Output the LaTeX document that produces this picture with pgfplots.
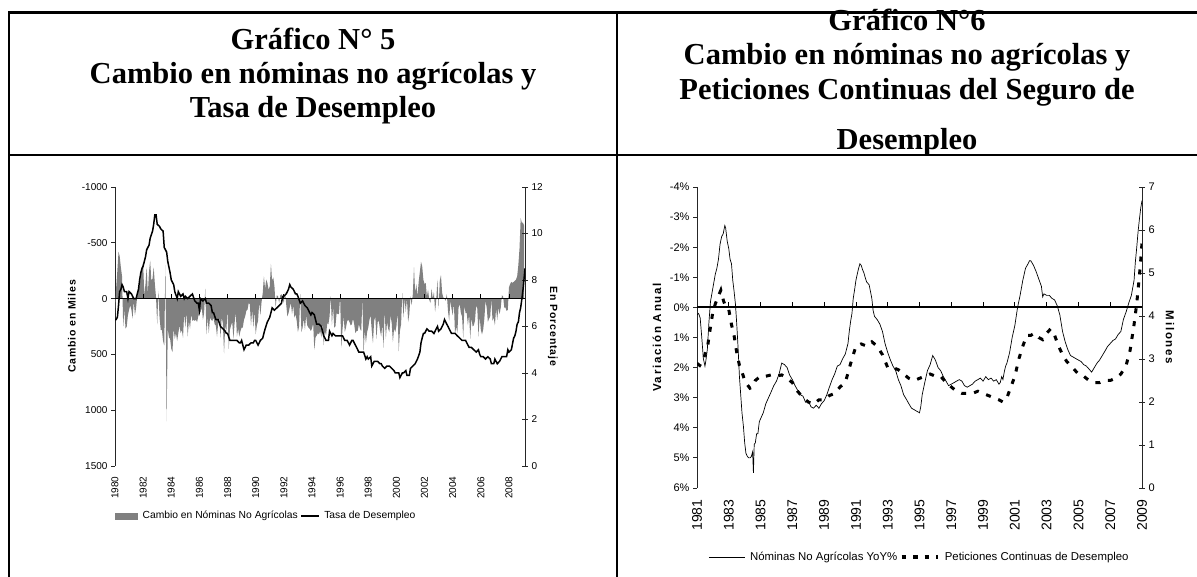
\documentclass[border=0pt]{standalone}
\usepackage{fontspec}
\setmainfont{Liberation Serif}
\setsansfont{Liberation Sans}
\newfontfamily\lblA[LetterSpace=8]{Liberation Sans}
\newfontfamily\lblB[LetterSpace=15]{Liberation Sans}
\usepackage{pgfplots}
\pgfplotsset{compat=1.18}
\definecolor{areagray}{RGB}{128,128,128}
\begin{document}
\begin{tikzpicture}[x=1pt,y=1pt]
\path[use as bounding box] (0pt,0pt) rectangle (1197pt,577pt);
% table frame
\draw[line width=2.2pt] (9pt,0pt) -- (9pt,564.5pt) -- (1197pt,564.5pt);
\draw[line width=2.2pt] (9pt,422pt) -- (1197pt,422pt);
\draw[line width=2.2pt] (617pt,0pt) -- (617pt,564.5pt);
% titles
\begin{scope}[every node/.style={font=\bfseries\fontsize{30.5}{35}\selectfont, anchor=base, inner sep=0pt}]
\node at (313pt,527pt) {Gráfico N° 5};
\node at (313pt,493pt) {Cambio en nóminas no agrícolas y};
\node at (313pt,459pt) {Tasa de Desempleo};
\node at (907pt,546pt) {Gráfico N°6};
\node at (907pt,512pt) {Cambio en nóminas no agrícolas y};
\node at (907pt,477pt) {Peticiones Continuas del Seguro de};
\node at (907pt,427pt) {Desempleo};
\end{scope}

% ================= CHART 1 =================
\begin{axis}[
  at={(115pt,111pt)}, anchor=south west, scale only axis,
  width=410pt, height=279pt,
  xmin=1980, xmax=2009.14, ymin=-1000, ymax=1500, y dir=reverse,
  axis y line*=left, axis x line=none,
  axis line style={black!85, line width=0.8pt},
  ytick={-1000,-500,0,500,1000,1500},
  yticklabels={-1000,-500,0,500,1000,1500},
  tick align=outside, major tick length=4pt,
  tick style={black!85, line width=0.8pt},
  tick label style={font=\sffamily\fontsize{10}{12}\selectfont},
  ylabel={Cambio en Miles},
  ylabel style={at={(axis description cs:-0.105,0.5)}, anchor=center, font=\lblA\bfseries\fontsize{10.5}{12}\selectfont},
]
\addplot[fill=areagray, draw=none] table[row sep=\\, header=false, x expr=1980+\coordindex/12, y index=0] {
130\\ -100\\ -250\\ -420\\ -380\\ -280\\ -200\\ 250\\ 100\\ 270\\ 250\\ 150\\
100\\ 60\\ 100\\ 180\\ 20\\ 150\\ 80\\ -30\\ -120\\ -100\\ -210\\ -280\\
-320\\ -30\\ -130\\ -280\\ -40\\ -240\\ -340\\ -160\\ -180\\ -280\\ -130\\ -10\\
230\\ -70\\ 170\\ 280\\ 280\\ 380\\ 420\\ -300\\ 1100\\ 270\\ 350\\ 360\\
450\\ 480\\ 270\\ 360\\ 310\\ 380\\ 310\\ 240\\ 310\\ 280\\ 350\\ 130\\
260\\ 120\\ 340\\ 200\\ 270\\ 140\\ 200\\ 190\\ 200\\ 190\\ 210\\ 160\\
130\\ 120\\ 80\\ 190\\ 130\\ -90\\ 320\\ 170\\ 310\\ 170\\ 190\\ 200\\
170\\ 230\\ 240\\ 340\\ 220\\ 170\\ 350\\ 170\\ 220\\ 490\\ 240\\ 290\\
90\\ 450\\ 280\\ 240\\ 210\\ 360\\ 220\\ 120\\ 340\\ 270\\ 340\\ 290\\
260\\ 260\\ 190\\ 160\\ 110\\ 100\\ 40\\ 50\\ 240\\ 100\\ 260\\ 110\\
320\\ 240\\ 200\\ 30\\ 150\\ 30\\ -50\\ -200\\ -90\\ -170\\ -140\\ -80\\
-110\\ -310\\ -160\\ -190\\ -110\\ 80\\ -30\\ -20\\ 40\\ -30\\ -40\\ 0\\
40\\ -60\\ 50\\ 160\\ 130\\ 80\\ 40\\ 140\\ 60\\ 170\\ 140\\ 200\\
300\\ 250\\ -40\\ 300\\ 260\\ 180\\ 280\\ 150\\ 240\\ 260\\ 270\\ 290\\
270\\ 220\\ 460\\ 350\\ 330\\ 310\\ 320\\ 290\\ 350\\ 210\\ 420\\ 290\\
330\\ 220\\ 230\\ 160\\ -20\\ 240\\ 70\\ 260\\ 250\\ 130\\ 140\\ 140\\
-20\\ 440\\ 280\\ 160\\ 300\\ 260\\ 200\\ 190\\ 210\\ 240\\ 230\\ 180\\
230\\ 310\\ 290\\ 290\\ 230\\ 270\\ 290\\ 0\\ 490\\ 280\\ 400\\ 300\\
260\\ 190\\ 150\\ 290\\ 400\\ 200\\ 160\\ 360\\ 210\\ 200\\ 280\\ 340\\
230\\ 440\\ 100\\ 360\\ 210\\ 270\\ 300\\ 150\\ 220\\ 390\\ 270\\ 300\\
250\\ 120\\ 470\\ 290\\ 230\\ -50\\ 170\\ 0\\ 120\\ 0\\ 210\\ 140\\
-20\\ 60\\ -40\\ -280\\ -50\\ -130\\ -20\\ -150\\ -240\\ -330\\ -290\\ -170\\
-130\\ -140\\ -20\\ -80\\ 10\\ 40\\ -90\\ 0\\ -60\\ 120\\ 10\\ -170\\
90\\ -160\\ -210\\ -50\\ -10\\ 0\\ 20\\ -40\\ 110\\ 200\\ 20\\ 90\\
150\\ 40\\ 320\\ 250\\ 310\\ 80\\ 50\\ 130\\ 160\\ 350\\ 60\\ 130\\
130\\ 240\\ 140\\ 360\\ 170\\ 250\\ 240\\ 200\\ 60\\ 90\\ 340\\ 160\\
280\\ 320\\ 280\\ 180\\ 20\\ 80\\ 210\\ 180\\ 160\\ 5\\ 200\\ 170\\
240\\ 90\\ 190\\ 80\\ 140\\ 80\\ -30\\ -20\\ 80\\ 80\\ 110\\ 100\\
-100\\ -130\\ -150\\ -140\\ -150\\ -160\\ -170\\ -200\\ -300\\ -450\\ -720\\ -680\\
-680\\ -650\\
} \closedcycle;
\addplot[black, line width=1pt] coordinates {(1980,0) (2009.14,0)};
\addplot[ycomb, black, line width=0.8pt] coordinates {
(1982,-45) (1984,-45) (1986,-45) (1988,-45) (1990,-45) (1992,-45) (1994,-45)
(1996,-45) (1998,-45) (2000,-45) (2002,-45) (2004,-45) (2006,-45) (2008,-45)};
\end{axis}

\begin{axis}[
  at={(115pt,111pt)}, anchor=south west, scale only axis,
  width=410pt, height=279pt,
  xmin=1980, xmax=2009.14, ymin=0, ymax=12,
  axis y line*=right, axis x line*=bottom,
  axis line style={black!85, line width=0.8pt},
  x axis line style={draw=none},
  xtick={1980,1982,1984,1986,1988,1990,1992,1994,1996,1998,2000,2002,2004,2006,2008},
  xticklabels={1980,1982,1984,1986,1988,1990,1992,1994,1996,1998,2000,2002,2004,2006,2008},
  major x tick style={draw=none},
  xticklabel style={rotate=90, anchor=east},
  xticklabel shift=4pt,
  ytick={0,2,4,6,8,10,12},
  yticklabels={0,2,4,6,8,10,12},
  tick align=center, major tick length=6pt,
  tick style={black!85, line width=0.8pt},
  tick label style={font=\sffamily\fontsize{10}{12}\selectfont},
  ylabel={En Porcentaje},
  ylabel style={at={(axis description cs:1.068,0.5)}, anchor=center, rotate=180, font=\lblA\bfseries\fontsize{10.5}{12}\selectfont},
  legend columns=2,
  legend style={draw=none, fill=none, at={(axis description cs:0.0,-0.179)}, anchor=west,
     inner xsep=0pt, inner ysep=0pt, font=\sffamily\fontsize{10.3}{12}\selectfont,
     /tikz/every even column/.append style={column sep=1pt},
     /tikz/every odd column/.append style={column sep=3pt}},
]
\addlegendimage{legend image code/.code={\fill[areagray] (0pt,-3pt) rectangle (22pt,3pt);}}
\addlegendentry{Cambio en Nóminas No Agrícolas}
\addplot[black, line width=1.5pt] coordinates {
(1980.00,6.3) (1980.08,6.3) (1980.17,6.4) (1980.25,6.9) (1980.33,7.5) (1980.42,7.6) (1980.50,7.8) (1980.58,7.7) (1980.67,7.5) (1980.75,7.5) (1980.83,7.5) (1980.92,7.2)
(1981.00,7.5) (1981.17,7.4) (1981.33,7.2) (1981.50,7.2) (1981.58,7.4) (1981.67,7.6) (1981.75,8.0) (1981.83,8.3) (1981.92,8.5)
(1982.00,8.6) (1982.17,9.0) (1982.25,9.3) (1982.42,9.5) (1982.50,9.8) (1982.67,10.1) (1982.75,10.4) (1982.83,10.8) (1982.92,10.8)
(1983.00,10.4) (1983.17,10.3) (1983.25,10.2) (1983.42,10.1) (1983.50,9.4) (1983.67,9.2) (1983.75,8.8) (1983.92,8.3)
(1984.00,8.0) (1984.17,7.8) (1984.25,7.5) (1984.42,7.2) (1984.50,7.5) (1984.67,7.3) (1984.83,7.4) (1984.92,7.2)
(1985.00,7.3) (1985.17,7.2) (1985.33,7.3) (1985.50,7.4) (1985.67,7.1) (1985.83,7.0) (1985.92,7.0)
(1986.00,6.7) (1986.08,7.2) (1986.25,7.1) (1986.42,7.2) (1986.50,7.0) (1986.67,7.0) (1986.83,6.9) (1986.92,6.6)
(1987.00,6.6) (1987.17,6.3) (1987.33,6.3) (1987.50,6.0) (1987.67,5.9) (1987.83,5.8) (1987.92,5.7)
(1988.00,5.7) (1988.17,5.4) (1988.33,5.4) (1988.50,5.4) (1988.67,5.4) (1988.83,5.3) (1988.92,5.3)
(1989.00,5.4) (1989.17,5.0) (1989.33,5.2) (1989.50,5.2) (1989.67,5.3) (1989.83,5.3) (1989.92,5.4)
(1990.00,5.4) (1990.17,5.2) (1990.33,5.4) (1990.50,5.5) (1990.58,5.7) (1990.67,5.9) (1990.83,6.2) (1990.92,6.3)
(1991.00,6.4) (1991.17,6.8) (1991.33,6.7) (1991.50,6.8) (1991.67,6.9) (1991.83,7.0) (1991.92,7.3)
(1992.00,7.3) (1992.17,7.4) (1992.33,7.6) (1992.42,7.8) (1992.50,7.7) (1992.67,7.6) (1992.83,7.4) (1992.92,7.4)
(1993.00,7.3) (1993.17,7.0) (1993.33,7.1) (1993.50,6.9) (1993.67,6.8) (1993.83,6.6) (1993.92,6.5)
(1994.00,6.6) (1994.17,6.5) (1994.33,6.1) (1994.50,6.1) (1994.67,6.0) (1994.83,5.6) (1994.92,5.5)
(1995.00,5.4) (1995.17,5.4) (1995.25,5.8) (1995.42,5.6) (1995.50,5.7) (1995.67,5.6) (1995.83,5.6) (1995.92,5.6)
(1996.00,5.6) (1996.17,5.6) (1996.33,5.4) (1996.50,5.4) (1996.67,5.2) (1996.83,5.4) (1996.92,5.4)
(1997.00,5.3) (1997.17,5.1) (1997.33,4.9) (1997.50,4.9) (1997.67,4.9) (1997.83,4.6) (1997.92,4.7)
(1998.00,4.6) (1998.17,4.7) (1998.25,4.3) (1998.42,4.5) (1998.50,4.5) (1998.67,4.5) (1998.83,4.4) (1998.92,4.4)
(1999.00,4.3) (1999.17,4.2) (1999.33,4.3) (1999.50,4.3) (1999.67,4.2) (1999.83,4.1) (1999.92,4.0)
(2000.00,4.0) (2000.17,4.0) (2000.25,3.8) (2000.42,4.0) (2000.50,4.0) (2000.67,4.1) (2000.75,3.9) (2000.92,3.9)
(2001.00,4.2) (2001.17,4.3) (2001.33,4.4) (2001.50,4.6) (2001.67,4.9) (2001.75,5.3) (2001.83,5.5) (2001.92,5.7)
(2002.00,5.7) (2002.17,5.9) (2002.33,5.8) (2002.50,5.8) (2002.67,5.7) (2002.83,5.9) (2002.92,6.0)
(2003.00,5.8) (2003.17,5.9) (2003.33,6.1) (2003.42,6.3) (2003.50,6.2) (2003.58,6.1) (2003.67,6.0) (2003.83,5.8) (2003.92,5.7)
(2004.00,5.7) (2004.17,5.7) (2004.33,5.6) (2004.50,5.5) (2004.67,5.4) (2004.83,5.4) (2004.92,5.4)
(2005.00,5.3) (2005.17,5.1) (2005.33,5.1) (2005.50,5.0) (2005.67,4.9) (2005.83,5.0) (2005.92,4.8)
(2006.00,4.7) (2006.17,4.7) (2006.33,4.6) (2006.50,4.7) (2006.67,4.6) (2006.75,4.4) (2006.92,4.4)
(2007.00,4.6) (2007.17,4.4) (2007.33,4.5) (2007.50,4.7) (2007.67,4.7) (2007.83,4.7) (2007.92,5.0)
(2008.00,4.9) (2008.17,5.0) (2008.33,5.5) (2008.42,5.6) (2008.50,5.8) (2008.58,6.1) (2008.67,6.2) (2008.75,6.6) (2008.83,6.8) (2008.92,7.2)
(2009.00,7.6) (2009.08,8.1) (2009.14,8.5)
};
\addlegendentry{Tasa de Desempleo}
\end{axis}

% ================= CHART 2 =================
\begin{axis}[
  at={(697pt,89pt)}, anchor=south west, scale only axis,
  width=445pt, height=301pt,
  xmin=1981, xmax=2009, ymin=-4, ymax=6, y dir=reverse,
  axis y line*=left, axis x line=none,
  axis line style={black!85, line width=0.8pt},
  ytick={-4,-3,-2,-1,0,1,2,3,4,5,6},
  yticklabels={-4\%,-3\%,-2\%,-1\%,0\%,1\%,2\%,3\%,4\%,5\%,6\%},
  tick align=outside, major tick length=4pt,
  tick style={black!85, line width=0.8pt},
  tick label style={font=\sffamily\fontsize{11}{13}\selectfont},
  ylabel={Variación Anual},
  ylabel style={at={(axis description cs:-0.09,0.5)}, anchor=center, font=\lblB\bfseries\fontsize{11.5}{13}\selectfont},
]
\addplot[black, line width=0.7pt] coordinates {
(1981.00,0.25) (1981.10,0.20) (1981.20,0.35) (1981.30,1.0) (1981.40,1.7) (1981.50,1.95) (1981.55,1.80) (1981.65,1.4) (1981.75,0.5) (1981.85,-0.2) (1981.95,-0.5)
(1982.05,-0.8) (1982.15,-1.1) (1982.25,-1.3) (1982.35,-1.6) (1982.45,-2.1) (1982.55,-2.35) (1982.65,-2.45) (1982.75,-2.72) (1982.80,-2.65) (1982.90,-2.2)
(1983.00,-1.95) (1983.08,-1.6) (1983.17,-1.45) (1983.25,-0.9) (1983.33,-0.55) (1983.42,-0.1) (1983.50,0.55) (1983.58,1.3) (1983.67,2.3) (1983.75,2.9) (1983.83,3.5) (1983.92,3.95)
(1984.00,4.5) (1984.08,4.85) (1984.17,4.95) (1984.25,5.0) (1984.33,5.0) (1984.42,4.95) (1984.50,4.8) (1984.55,5.5) (1984.60,4.55) (1984.67,4.5) (1984.75,4.2) (1984.83,4.2) (1984.92,3.8)
(1985.00,3.7) (1985.17,3.5) (1985.33,3.2) (1985.50,3.0) (1985.67,2.8) (1985.83,2.6)
(1986.00,2.45) (1986.17,2.2) (1986.33,1.85) (1986.50,1.9) (1986.67,2.0) (1986.83,2.25)
(1987.00,2.4) (1987.17,2.6) (1987.33,2.75) (1987.50,2.9) (1987.67,2.95) (1987.83,3.15)
(1988.00,3.1) (1988.17,3.3) (1988.33,3.35) (1988.50,3.25) (1988.67,3.35) (1988.83,3.2)
(1989.00,3.1) (1989.17,2.9) (1989.33,2.65) (1989.50,2.4) (1989.67,2.2) (1989.83,1.95)
(1990.00,1.9) (1990.17,1.7) (1990.33,1.55) (1990.50,1.2) (1990.58,0.8) (1990.67,0.45) (1990.75,0.2) (1990.83,-0.3) (1990.92,-0.6)
(1991.00,-0.9) (1991.08,-1.1) (1991.17,-1.3) (1991.25,-1.45) (1991.33,-1.4) (1991.42,-1.25) (1991.50,-1.15) (1991.58,-1.0) (1991.67,-0.85) (1991.83,-0.75)
(1992.00,-0.3) (1992.08,0.1) (1992.17,0.3) (1992.33,0.4) (1992.50,0.55) (1992.67,0.8) (1992.83,1.2)
(1993.00,1.5) (1993.17,1.75) (1993.33,1.95) (1993.50,2.1) (1993.67,2.4) (1993.83,2.6)
(1994.00,2.9) (1994.17,3.05) (1994.33,3.2) (1994.50,3.35) (1994.67,3.4) (1994.83,3.45)
(1995.00,3.5) (1995.08,3.3) (1995.17,2.9) (1995.33,2.5) (1995.50,2.1) (1995.67,1.9) (1995.83,1.6)
(1996.00,1.75) (1996.17,2.0) (1996.33,2.1) (1996.50,2.3) (1996.67,2.45) (1996.83,2.6)
(1997.00,2.55) (1997.17,2.5) (1997.33,2.45) (1997.50,2.4) (1997.67,2.45) (1997.83,2.6)
(1998.00,2.65) (1998.17,2.6) (1998.33,2.55) (1998.50,2.45) (1998.67,2.4) (1998.83,2.35)
(1999.00,2.45) (1999.17,2.3) (1999.33,2.4) (1999.50,2.35) (1999.67,2.45) (1999.83,2.4)
(2000.00,2.55) (2000.08,2.5) (2000.17,2.3) (2000.25,2.4) (2000.33,2.15) (2000.42,1.95) (2000.50,1.85) (2000.67,1.5) (2000.83,1.0)
(2001.00,0.6) (2001.17,0.0) (2001.33,-0.4) (2001.50,-0.9) (2001.67,-1.3) (2001.83,-1.45) (2001.92,-1.55)
(2002.00,-1.55) (2002.17,-1.4) (2002.33,-1.2) (2002.50,-0.95) (2002.67,-0.7) (2002.75,-0.35) (2002.83,-0.45)
(2003.00,-0.4) (2003.17,-0.4) (2003.33,-0.3) (2003.50,-0.25) (2003.67,-0.05) (2003.83,0.25)
(2004.00,0.8) (2004.17,1.15) (2004.33,1.4) (2004.50,1.6) (2004.67,1.65) (2004.83,1.7)
(2005.00,1.75) (2005.17,1.8) (2005.33,1.9) (2005.50,1.95) (2005.67,2.05) (2005.83,2.15)
(2006.00,2.0) (2006.17,1.85) (2006.33,1.75) (2006.50,1.6) (2006.67,1.45) (2006.83,1.3)
(2007.00,1.2) (2007.17,1.1) (2007.33,1.05) (2007.50,0.9) (2007.67,0.8) (2007.83,0.4)
(2008.00,0.15) (2008.17,-0.15) (2008.33,-0.4) (2008.50,-0.9) (2008.58,-1.5) (2008.67,-2.0) (2008.75,-2.5) (2008.83,-2.9) (2008.92,-3.3) (2009.00,-3.55)
};
\addplot[black, line width=2pt] coordinates {(1981,0) (2009,0)};
\addplot[ycomb, black, line width=0.8pt] coordinates {
(1983,-0.18) (1985,-0.18) (1987,-0.18) (1989,-0.18) (1991,-0.18) (1993,-0.18) (1995,-0.18)
(1997,-0.18) (1999,-0.18) (2001,-0.18) (2003,-0.18) (2005,-0.18) (2007,-0.18)};
\end{axis}

\begin{axis}[
  at={(697pt,89pt)}, anchor=south west, scale only axis,
  width=445pt, height=301pt,
  xmin=1981, xmax=2009, ymin=0, ymax=7,
  axis y line*=right, axis x line*=bottom,
  axis line style={black!85, line width=0.8pt},
  x axis line style={draw=none},
  xtick={1981,1983,1985,1987,1989,1991,1993,1995,1997,1999,2001,2003,2005,2007,2009},
  xticklabels={1981,1983,1985,1987,1989,1991,1993,1995,1997,1999,2001,2003,2005,2007,2009},
  major x tick style={draw=none},
  xticklabel style={rotate=90, anchor=east, font=\sffamily\fontsize{14}{16}\selectfont},
  xticklabel shift=5pt,
  ytick={0,1,2,3,4,5,6,7},
  yticklabels={0,1,2,3,4,5,6,7},
  tick align=center, major tick length=6pt,
  tick style={black!85, line width=0.8pt},
  yticklabel style={font=\sffamily\fontsize{11}{13}\selectfont},
  ylabel={Milones},
  ylabel style={at={(axis description cs:1.063,0.5)}, anchor=center, rotate=180, font=\lblB\bfseries\fontsize{11.5}{13}\selectfont},
  legend columns=2,
  legend style={draw=none, fill=none, at={(axis description cs:0.5,-0.229)}, anchor=center,
     inner xsep=0pt, inner ysep=0pt, font=\sffamily\fontsize{11.4}{13}\selectfont,
     /tikz/every even column/.append style={column sep=0pt},
     /tikz/every odd column/.append style={column sep=3pt}},
]
\addlegendimage{legend image code/.code={\draw[black, line width=0.7pt] (0pt,0pt) -- (36pt,0pt);}}
\addlegendentry{Nóminas No Agrícolas YoY\%}
\addplot[black, line width=3pt, dash pattern=on 5pt off 8pt,
  legend image code/.code={\draw[black, line width=4.5pt, dash pattern=on 4.5pt off 7pt] (0pt,0pt) -- (36pt,0pt);}] coordinates {
(1981.00,2.9) (1981.17,2.85) (1981.33,2.95) (1981.50,3.1) (1981.67,3.3) (1981.83,3.7)
(1982.00,4.1) (1982.17,4.3) (1982.33,4.45) (1982.50,4.6) (1982.67,4.35) (1982.83,4.2)
(1983.00,4.15) (1983.17,3.8) (1983.33,3.55) (1983.50,3.15) (1983.67,2.85) (1983.83,2.7)
(1984.00,2.5) (1984.17,2.4) (1984.33,2.32) (1984.50,2.35) (1984.67,2.5) (1984.83,2.55)
(1985.00,2.6) (1985.33,2.6) (1985.67,2.63) (1986.00,2.6) (1986.33,2.63) (1986.67,2.55)
(1987.00,2.45) (1987.33,2.25) (1987.67,2.1) (1988.00,2.0) (1988.33,1.95) (1988.67,2.05)
(1989.00,2.05) (1989.33,2.15) (1989.67,2.2) (1990.00,2.35) (1990.33,2.45) (1990.67,2.9)
(1991.00,3.3) (1991.33,3.35) (1991.67,3.3) (1992.00,3.4) (1992.33,3.3) (1992.67,3.1)
(1993.00,2.8) (1993.33,2.8) (1993.67,2.75) (1994.00,2.65) (1994.33,2.55) (1994.67,2.5)
(1995.00,2.55) (1995.33,2.6) (1995.67,2.65) (1996.00,2.6) (1996.33,2.6) (1996.67,2.45)
(1997.00,2.35) (1997.33,2.25) (1997.67,2.2) (1998.00,2.2) (1998.33,2.2) (1998.67,2.25)
(1999.00,2.2) (1999.33,2.15) (1999.67,2.1) (2000.00,2.05) (2000.25,2.0) (2000.50,2.1) (2000.75,2.35)
(2001.00,2.6) (2001.25,3.0) (2001.50,3.3) (2001.75,3.55) (2002.00,3.55) (2002.25,3.6) (2002.50,3.5) (2002.75,3.45)
(2003.00,3.6) (2003.25,3.7) (2003.50,3.55) (2003.75,3.3) (2004.00,3.1) (2004.25,2.95) (2004.50,2.85) (2004.75,2.75)
(2005.00,2.65) (2005.33,2.6) (2005.67,2.5) (2006.00,2.45) (2006.33,2.45) (2006.67,2.5)
(2007.00,2.5) (2007.33,2.55) (2007.67,2.65) (2008.00,2.85) (2008.25,3.2) (2008.50,3.8)
(2008.67,4.3) (2008.83,4.9) (2008.92,5.3) (2009.00,5.7)
};
\addlegendentry{Peticiones Continuas de Desempleo}
\end{axis}
\end{tikzpicture}
\end{document}
